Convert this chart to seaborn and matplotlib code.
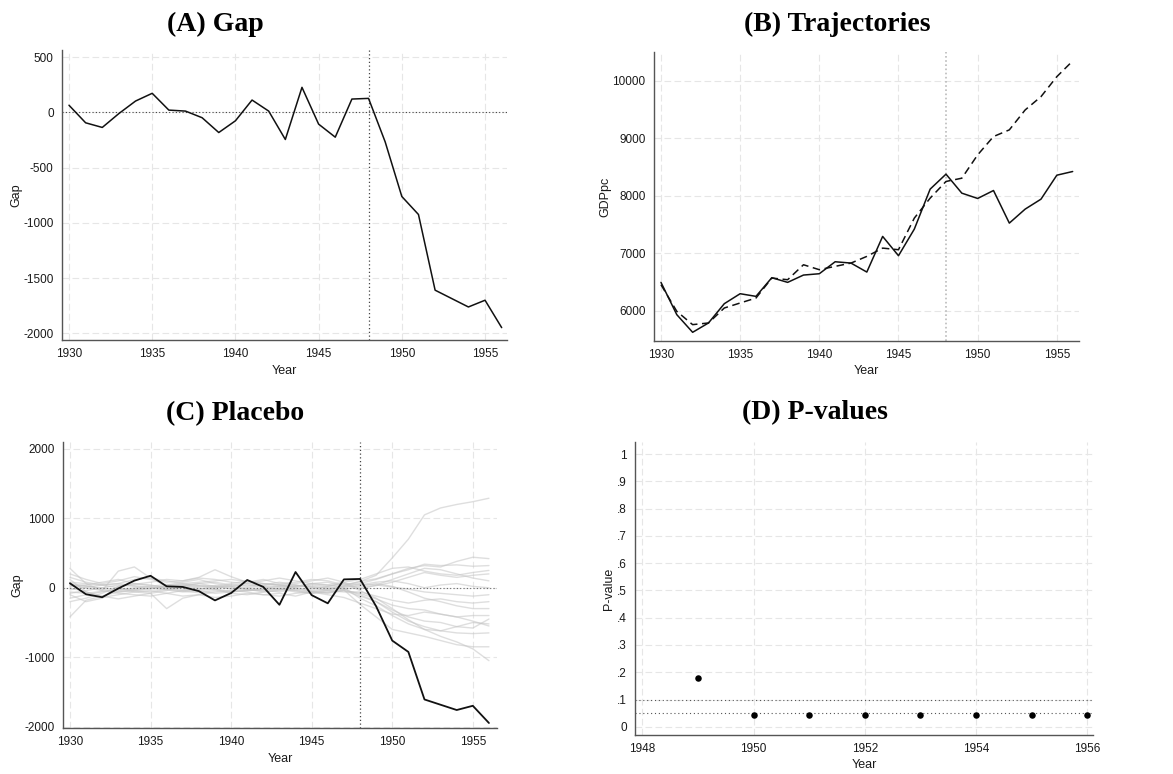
import numpy as np
import pandas as pd
import matplotlib
matplotlib.use("Agg")
import matplotlib.pyplot as plt
import seaborn as sns

sns.set_style("white")
plt.rcParams['font.family'] = ['Liberation Sans', 'DejaVu Sans']
plt.rcParams['axes.unicode_minus'] = False

years = list(range(1930, 1957))

gap = [65, -94, -136, -10, 103, 173, 21, 12, -48, -182, -76, 112, 12, -245, 227,
       -106, -224, 121, 127, -267, -761, -924, -1609, -1685, -1761, -1700, -1948]

gdp_actual = [6497, 5936, 5630, 5792, 6127, 6300, 6254, 6578, 6497, 6624, 6647, 6855,
              6832, 6676, 7295, 6960, 7422, 8116, 8376, 8046, 7954, 8092, 7526, 7769,
              7942, 8358, 8422]
gdp_synth = [6457, 5994, 5763, 5792, 6052, 6139, 6225, 6572, 6543, 6803, 6717, 6775,
             6832, 6948, 7092, 7064, 7613, 7960, 8249, 8306, 8711, 9029, 9145, 9491,
             9722, 10069, 10341]

placebos = {
    "p01": [-30, 10, 40, 60, 30, 10, -20, 0, 20, 30, 10, -10, 0, 20, 40, 10, -10, 30, 90, 180, 430, 700, 1050, 1150, 1200, 1240, 1290],
    "p02": [-420, -180, -120, -60, -40, -60, -20, -50, -70, -40, -60, -30, -40, -60, -20, -50, -70, -30, -240, -420, -600, -650, -700, -760, -820, -850, -850],
    "p03": [280, 60, -40, 240, 300, 140, 20, 60, 30, 0, 40, 60, 30, 20, 10, 40, 20, 60, -40, -150, -300, -460, -600, -700, -780, -880, -1050],
    "p04": [120, -60, -120, -160, -120, -80, -300, -150, -100, -60, -40, -60, -100, -80, -120, -60, -30, 20, 60, 120, 200, 280, 320, 300, 380, 440, 420],
    "p05": [-100, -200, -150, 20, 50, 80, 120, 100, 150, 260, 160, 80, 120, 60, 80, 120, 100, 40, 90, 130, 200, 260, 340, 320, 330, 310, 320],
    "p06": [40, 20, 0, -30, -20, -10, 20, 40, 30, 20, -10, -30, -20, -10, 30, 20, 0, -20, 0, 30, 80, 150, 220, 180, 150, 180, 200],
    "p07": [60, 30, -20, -60, -40, -10, -30, -60, -40, -20, -80, -100, -60, -30, -10, -40, -20, 0, -150, -260, -400, -520, -600, -620, -650, -660, -650],
    "p08": [-150, -100, -60, -20, 0, 20, 50, 30, 0, -20, -50, -40, -20, 0, -40, -80, -60, -40, -80, -160, -250, -300, -320, -380, -420, -480, -550],
    "p09": [150, 80, 40, 60, 120, 140, 100, 60, 80, 100, 120, 90, 60, 40, 20, 60, 80, 20, 20, 60, 20, -60, -150, -200, -260, -300, -300],
    "p10": [-60, -80, -50, -40, -20, 0, 10, -20, -50, -80, -60, -40, -30, -20, -60, -80, -40, -20, -100, -200, -320, -420, -480, -500, -560, -580, -450],
    "p11": [20, 40, 80, 120, 60, 30, 0, 40, 60, 80, 40, 20, 60, 40, 0, -20, 20, 60, 50, 40, 10, -20, -60, -80, -100, -120, -100],
    "p12": [-200, -150, -80, 20, 60, 40, 0, -40, -20, 20, 60, 100, 60, 40, 60, 100, 140, 80, -20, 40, 120, 200, 280, 260, 200, 140, 100],
    "p13": [80, 60, 40, 0, -60, -80, -40, 20, 60, 20, -20, 0, 40, 80, 40, 0, -40, -60, -60, -120, -180, -220, -180, -160, -200, -220, -200],
    "p14": [-80, -40, 0, 40, 20, -20, 40, 80, 120, 60, 20, -20, -60, -40, 20, 60, 40, 0, 40, 80, 100, 60, 0, 40, 60, 20, 0],
    "p15": [0, -60, -140, -100, -60, -40, -80, -120, -100, -140, -120, -80, -100, -120, -80, -60, -100, -140, -220, -300, -380, -400, -350, -380, -420, -400, -400],
    "p16": [200, 120, 60, 100, 160, 120, 80, 100, 140, 120, 80, 60, 100, 140, 100, 60, 40, 80, 120, 200, 280, 300, 240, 200, 180, 220, 250],
    "p17": [40, 0, -40, -80, -100, -120, -80, -40, -20, 0, 20, 40, 20, -20, -40, -60, -80, -40, -120, -200, -350, -480, -560, -620, -560, -500, -520],
}

pval_years = [1949, 1950, 1951, 1952, 1953, 1954, 1955, 1956]
pvals = [0.18, 0.045, 0.045, 0.045, 0.045, 0.045, 0.045, 0.045]

W, H = 1173, 774
fig = plt.figure(figsize=(W / 100, H / 100), dpi=100)


def add_ax(left, top, right, bottom):
    return fig.add_axes([left / W, 1 - bottom / H, (right - left) / W, (bottom - top) / H])


SP = "#555555"


def style(ax, xticks, yticks, ylab, yticklabels=None):
    for s in ["top", "right"]:
        ax.spines[s].set_visible(False)
    for s in ["left", "bottom"]:
        ax.spines[s].set_color(SP)
        ax.spines[s].set_linewidth(1.0)
    ax.set_xticks(xticks)
    ax.set_yticks(yticks)
    if yticklabels is not None:
        ax.set_yticklabels(yticklabels)
    ax.tick_params(axis="both", direction="out", length=4, width=0.8, color=SP,
                   labelsize=8.5, labelcolor="#1a1a1a", pad=2)
    ax.grid(True, color="#e6e6e6", linestyle=(0, (6, 3)), linewidth=0.8)
    ax.set_axisbelow(True)
    ax.set_xlabel("Year", fontsize=9, color="#1a1a1a", labelpad=3)
    ax.set_ylabel(ylab, fontsize=9, color="#1a1a1a", labelpad=1)


title_kw = dict(family=["Liberation Serif", "DejaVu Serif"], fontweight="bold",
                fontsize=20, ha="center", va="center", color="black")

# (A) Gap
axA = add_ax(62, 50, 507, 340)
axA.axhline(0, color="#444444", linestyle=(0, (1, 2)), linewidth=0.8, zorder=1)
axA.axvline(1948, color="#444444", linestyle=(0, (1, 2)), linewidth=0.9, zorder=1)
sns.lineplot(x=years, y=gap, ax=axA, color="#111111", linewidth=1.1)
axA.set_xlim(1929.58, 1956.32)
axA.set_ylim(-2060, 565)
style(axA, [1930, 1935, 1940, 1945, 1950, 1955], [500, 0, -500, -1000, -1500, -2000], "Gap")
fig.text(215 / W, 1 - 24 / H, "(A) Gap", **title_kw)

# (B) Trajectories
axB = add_ax(654, 52, 1079, 341)
axB.axvline(1948, color="#bbbbbb", linestyle=(0, (1, 1.5)), linewidth=1.2, zorder=1)
sns.lineplot(x=years, y=gdp_actual, ax=axB, color="#111111", linewidth=1.1)
sns.lineplot(x=years, y=gdp_synth, ax=axB, color="#111111", linewidth=1.1,
             linestyle=(0, (5, 3)))
axB.set_xlim(1929.56, 1956.4)
axB.set_ylim(5479, 10497)
style(axB, [1930, 1935, 1940, 1945, 1950, 1955], [6000, 7000, 8000, 9000, 10000], "GDPpc")
fig.text(837 / W, 1 - 24 / H, "(B) Trajectories", **title_kw)

# (C) Placebo
axC = add_ax(63, 442, 497, 728)
for name, vals in placebos.items():
    sns.lineplot(x=years, y=vals, ax=axC, color="#c4c4c4", alpha=0.55, linewidth=1.0)
axC.axhline(0, color="#666666", linestyle=(0, (1, 2)), linewidth=0.8, zorder=3)
axC.axvline(1948, color="#444444", linestyle=(0, (1, 2)), linewidth=0.9, zorder=3)
sns.lineplot(x=years, y=gap, ax=axC, color="#111111", linewidth=1.3, zorder=4)
axC.set_xlim(1929.57, 1956.5)
axC.set_ylim(-2020, 2100)
style(axC, [1930, 1935, 1940, 1945, 1950, 1955], [2000, 1000, 0, -1000, -2000], "Gap")
fig.text(235 / W, 1 - 414 / H, "(C) Placebo", **title_kw)

# (D) P-values
axD = add_ax(635, 442, 1093, 735)
axD.axhline(0.1, color="#555555", linestyle=(0, (1, 2.5)), linewidth=0.8, zorder=1)
axD.axhline(0.05, color="#555555", linestyle=(0, (1, 2.5)), linewidth=0.8, zorder=1)
sns.scatterplot(x=pval_years, y=pvals, ax=axD, color="black", s=22, edgecolor="black",
                linewidth=0, zorder=3)
axD.set_xlim(1947.87, 1956.1)
axD.set_ylim(-0.03, 1.044)
yt = [0, 0.1, 0.2, 0.3, 0.4, 0.5, 0.6, 0.7, 0.8, 0.9, 1.0]
style(axD, [1948, 1950, 1952, 1954, 1956], yt, "P-value",
      ["0", ".1", ".2", ".3", ".4", ".5", ".6", ".7", ".8", ".9", "1"])
fig.text(815 / W, 1 - 413 / H, "(D) P-values", **title_kw)

fig.savefig("out.png", dpi=100, facecolor="white")
